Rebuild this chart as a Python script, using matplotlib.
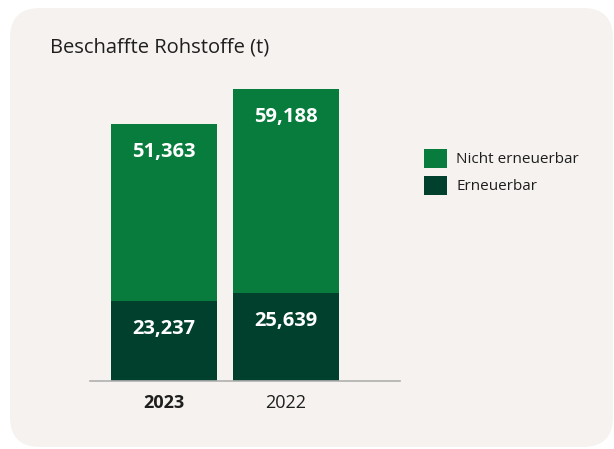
import matplotlib.pyplot as plt
from matplotlib.patches import FancyBboxPatch

years = ["2023", "2022"]
renewable = [23237, 25639]
non_renewable = [51363, 59188]
series_labels = ["Nicht erneuerbar", "Erneuerbar"]

GREEN = "#077c3c"
DARK = "#00402d"
BG = "#f5f2ef"
TEXT = "#1e1e1e"

plt.rcParams["font.family"] = ["Open Sans", "DejaVu Sans"]

W, H = 614, 449
fig = plt.figure(figsize=(W / 100, H / 100), dpi=100)
fig.patch.set_facecolor("white")

# rounded card behind everything
bg = fig.add_axes([0, 0, 1, 1], zorder=0)
bg.set_xlim(0, W)
bg.set_ylim(0, H)
bg.axis("off")
bg.add_patch(FancyBboxPatch((10, 2), 603, 439,
                            boxstyle="round,pad=0,rounding_size=30",
                            fc=BG, ec="none"))

ax = fig.add_axes([90 / W, (H - 381) / H, 310 / W, 292 / H], zorder=1)
ax.patch.set_alpha(0)
x = list(range(len(years)))
b1 = ax.bar(x, renewable, width=0.87, color=DARK, label=series_labels[1])
b2 = ax.bar(x, non_renewable, width=0.87, bottom=renewable, color=GREEN,
            label=series_labels[0])

ax.set_xlim(-0.607, 1.934)
ax.set_ylim(0, max(r + n for r, n in zip(renewable, non_renewable)))

for i in x:
    for top, val in ((renewable[i], renewable[i]),
                     (renewable[i] + non_renewable[i], non_renewable[i])):
        ax.annotate(f"{val:,}", (i, top), xytext=(0, -20), textcoords="offset points",
                    ha="center", va="center", color="white", fontsize=14.5,
                    fontweight="bold")

for s in ["top", "right", "left"]:
    ax.spines[s].set_visible(False)
ax.spines["bottom"].set_color("#b0b0b0")
ax.spines["bottom"].set_linewidth(1.2)
ax.set_yticks([])
ax.set_xticks(x)
ax.set_xticklabels(years, fontsize=13, color=TEXT)
ax.tick_params(axis="x", length=0, pad=9)
ax.get_xticklabels()[0].set_fontweight("bold")

fig.text(50 / W, 1 - 48 / H, "Beschaffte Rohstoffe (t)", fontsize=14.5, color=TEXT,
         ha="left", va="center")

fig.legend(handles=[b2, b1], labels=series_labels, loc="upper left",
           bbox_to_anchor=(424 / W, 1 - 149 / H), frameon=False, fontsize=11,
           handlelength=1.5, handleheight=1.5, handletextpad=0.6,
           labelspacing=0.55, borderpad=0, borderaxespad=0, labelcolor=TEXT)

fig.savefig("out.png", dpi=100)
